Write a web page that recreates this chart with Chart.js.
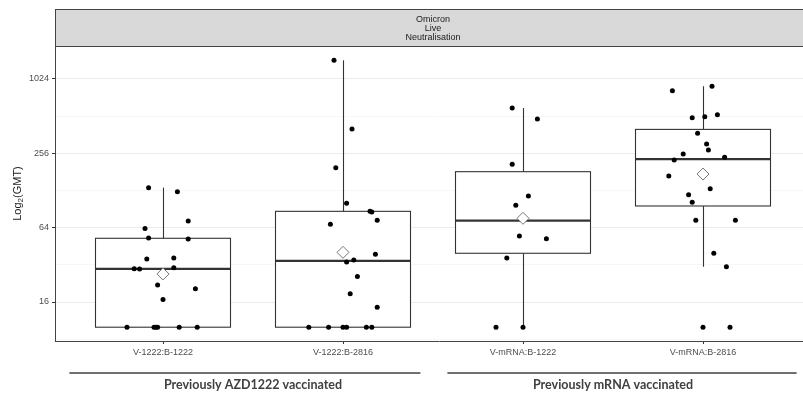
<!DOCTYPE html>
<html>
<head>
<meta charset="utf-8">
<script src="https://cdn.jsdelivr.net/npm/chart.js@4.4.0/dist/chart.umd.min.js"></script>
<style>
  html, body { margin: 0; padding: 0; background: #fff; overflow: hidden; }
  body { width: 803px; height: 395px; }
  #wrap { width: 830px; height: 395px; position: relative; }
</style>
</head>
<body>
<div id="wrap"><canvas id="gmtChart"></canvas></div>
<script>
// categories and panel text
const categories = ['V-1222:B-1222', 'V-1222:B-2816', 'V-mRNA:B-1222', 'V-mRNA:B-2816'];
const stripText = ['Omicron', 'Live', 'Neutralisation'];
const groupNames = ['Previously AZD1222 vaccinated', 'Previously mRNA vaccinated'];

// y ticks (GMT, log2 axis)
const tickValues = [16, 64, 256, 1024];

// individual GMT values per category, with their horizontal jitter (category units)
const gmt1 = [135, 125, 72.5, 63, 52.8, 51.8, 35.7, 36.3, 29.8, 29.6, 30.3, 22, 20.5, 16.8, 10, 10, 10, 10, 10, 10];
const jit1 = [-0.08, 0.08, 0.14, -0.10, -0.08, 0.14, -0.09, 0.06, -0.16, -0.13, 0.06, -0.03, 0.18, 0.00, -0.20, -0.05, -0.04, -0.03, 0.09, 0.19];
const gmt2 = [1451, 403, 196, 101, 86.8, 85.7, 73.4, 68.1, 38.9, 33.7, 35, 25.8, 18.7, 14.5, 10, 10, 10, 10, 10, 10];
const jit2 = [-0.05, 0.05, -0.04, 0.02, 0.15, 0.16, 0.19, -0.07, 0.18, 0.02, 0.06, 0.08, 0.04, 0.19, -0.19, -0.08, 0.00, 0.02, 0.13, 0.16];
const gmt3 = [596, 486, 209, 115.5, 97, 54.8, 52.1, 36.3, 10, 10];
const jit3 = [-0.06, 0.08, -0.06, 0.03, -0.04, -0.02, 0.13, -0.09, -0.15, 0.00];
const gmt4 = [823, 893, 497, 507, 526, 372, 305, 272, 253, 226, 238, 168, 132, 118, 103, 73.4, 73.4, 39.7, 30.9, 10, 10];
const jit4 = [-0.17, 0.05, -0.06, 0.01, 0.08, -0.03, 0.02, 0.03, -0.11, -0.16, 0.12, -0.19, 0.04, -0.08, -0.06, -0.04, 0.18, 0.06, 0.13, 0.00, 0.15];

// box summaries (GMT)
const whiskerLow = [10, 10, 10, 30.9];
const q1 = [10, 10, 39.7, 95.9];
const median = [29.7, 34.4, 72.9, 230];
const q3 = [52.5, 86.8, 181.8, 400];
const whiskerHigh = [135, 1451, 596, 893];
const geoMean = [27, 40.4, 76.2, 174];

const allGmt = [gmt1, gmt2, gmt3, gmt4];
const allJit = [jit1, jit2, jit3, jit4];

const pointData = [];
allGmt.forEach((vals, i) => {
  vals.forEach((v, k) => pointData.push({ x: i + 1 + allJit[i][k], y: Math.log2(v) }));
});
const meanData = geoMean.map((v, i) => ({ x: i + 1, y: Math.log2(v) }));

const axisFont = { family: '"Liberation Sans", Arial, sans-serif', size: 9 };

// boxes and whiskers
const boxPlugin = {
  id: 'boxes',
  beforeDatasetsDraw(chart) {
    const { ctx, scales: { x, y } } = chart;
    const half = 0.375;
    const py = v => y.getPixelForValue(Math.log2(v));
    ctx.save();
    ctx.strokeStyle = '#333';
    categories.forEach((c, i) => {
      const cx = Math.round(x.getPixelForValue(i + 1)) + 0.5;
      const l = x.getPixelForValue(i + 1 - half);
      const r = x.getPixelForValue(i + 1 + half);
      ctx.lineWidth = 1.1;
      ctx.beginPath();
      ctx.moveTo(cx, py(whiskerLow[i])); ctx.lineTo(cx, py(q1[i]));
      ctx.moveTo(cx, py(q3[i])); ctx.lineTo(cx, py(whiskerHigh[i]));
      ctx.stroke();
      const top = py(q3[i]), bot = py(q1[i]);
      ctx.fillStyle = '#fff';
      ctx.fillRect(l, top, r - l, bot - top);
      ctx.strokeRect(l, top, r - l, bot - top);
      ctx.lineWidth = 2.2;
      ctx.beginPath();
      ctx.moveTo(l, py(median[i])); ctx.lineTo(r, py(median[i]));
      ctx.stroke();
    });
    ctx.restore();
  }
};

// facet strip, y title, group brackets
const decorPlugin = {
  id: 'decor',
  afterDraw(chart) {
    const { ctx, chartArea, scales: { x } } = chart;
    ctx.save();
    // strip
    ctx.fillStyle = '#d9d9d9';
    ctx.fillRect(chartArea.left, 9, chartArea.right - chartArea.left + 10, chartArea.top - 9);
    ctx.strokeStyle = '#444';
    ctx.lineWidth = 1;
    ctx.strokeRect(chartArea.left + 0.5, 9.5, chartArea.right - chartArea.left + 10, chartArea.top - 9);
    ctx.fillStyle = '#1a1a1a';
    ctx.font = '9px "Liberation Sans", Arial, sans-serif';
    ctx.textAlign = 'center';
    ctx.textBaseline = 'middle';
    const sx = x.getPixelForValue(2.5);
    stripText.forEach((t, k) => ctx.fillText(t, sx, 19.5 + k * 9.2));

    // y title with subscript
    ctx.translate(18, (chartArea.top + chartArea.bottom) / 2);
    ctx.rotate(-Math.PI / 2);
    ctx.textAlign = 'left';
    const big = '11px "Liberation Sans", Arial, sans-serif';
    const small = '8px "Liberation Sans", Arial, sans-serif';
    ctx.font = big;
    const w1 = ctx.measureText('Log').width, w3 = ctx.measureText('(GMT)').width;
    ctx.font = small;
    const w2 = ctx.measureText('2').width;
    const x0 = -(w1 + w2 + w3) / 2;
    ctx.font = big; ctx.fillText('Log', x0, 0);
    ctx.font = small; ctx.fillText('2', x0 + w1, 3);
    ctx.font = big; ctx.fillText('(GMT)', x0 + w1 + w2, 0);
    ctx.setTransform(1, 0, 0, 1, 0, 0);

    // group brackets
    const spans = [[0.48, 2.43], [2.58, 4.52]];
    ctx.strokeStyle = '#404040';
    ctx.lineWidth = 1.5;
    ctx.fillStyle = '#404040';
    ctx.font = 'bold 12.5px Lato, "Liberation Sans", sans-serif';
    ctx.textAlign = 'center';
    groupNames.forEach((g, k) => {
      const a = x.getPixelForValue(spans[k][0]), b = x.getPixelForValue(spans[k][1]);
      ctx.beginPath();
      ctx.moveTo(a, 373); ctx.lineTo(b, 373);
      ctx.stroke();
      ctx.fillText(g, x.getPixelForValue(2 * k + 1.5), 385);
    });
    ctx.restore();
  }
};

new Chart(document.getElementById('gmtChart'), {
  type: 'scatter',
  data: {
    datasets: [
      {
        label: 'Mean',
        data: meanData,
        pointStyle: 'rectRot',
        pointRadius: 6,
        backgroundColor: '#fff',
        borderColor: '#777',
        borderWidth: 1,
        order: 0
      },
      {
        label: 'GMT',
        data: pointData,
        pointRadius: 2.5,
        backgroundColor: '#000',
        borderWidth: 0,
        order: 1
      }
    ]
  },
  options: {
    responsive: true,
    maintainAspectRatio: false,
    animation: false,
    layout: { padding: { top: 46, left: 0, right: 0, bottom: 38 } },
    plugins: { legend: { display: false }, tooltip: { enabled: false } },
    scales: {
      x: {
        type: 'linear',
        min: 0.4,
        max: 0.4 + 768 / 180,
        afterBuildTicks: s => { s.ticks = categories.map((c, i) => ({ value: i + 1 })); },
        afterFit: s => { s.height = 16; },
        ticks: {
          callback: v => categories[v - 1] || '',
          font: axisFont,
          color: '#4d4d4d',
          padding: 3,
          maxRotation: 0,
          autoSkip: false
        },
        grid: { drawOnChartArea: false, tickLength: 3, tickColor: '#333' },
        border: { display: true, color: '#444', width: 1 }
      },
      y: {
        type: 'linear',
        min: 4 - 39 / 37.17,
        max: 10 + 33 / 37.17,
        afterFit: s => { s.width = 55; },
        ticks: {
          stepSize: 1,
          includeBounds: false,
          autoSkip: false,
          font: axisFont,
          color: '#4d4d4d',
          padding: 3,
          callback: v => tickValues.includes(2 ** v) ? String(2 ** v) : ''
        },
        grid: {
          tickLength: 3,
          color: c => tickValues.includes(2 ** c.tick.value) ? '#ebebeb' : '#f3f3f3',
          lineWidth: c => tickValues.includes(2 ** c.tick.value) ? 1 : 0.7,
          tickColor: c => tickValues.includes(2 ** c.tick.value) ? '#333' : 'rgba(0,0,0,0)'
        },
        border: { display: true, color: '#444', width: 1 }
      }
    }
  },
  plugins: [boxPlugin, decorPlugin]
});
</script>
</body>
</html>
